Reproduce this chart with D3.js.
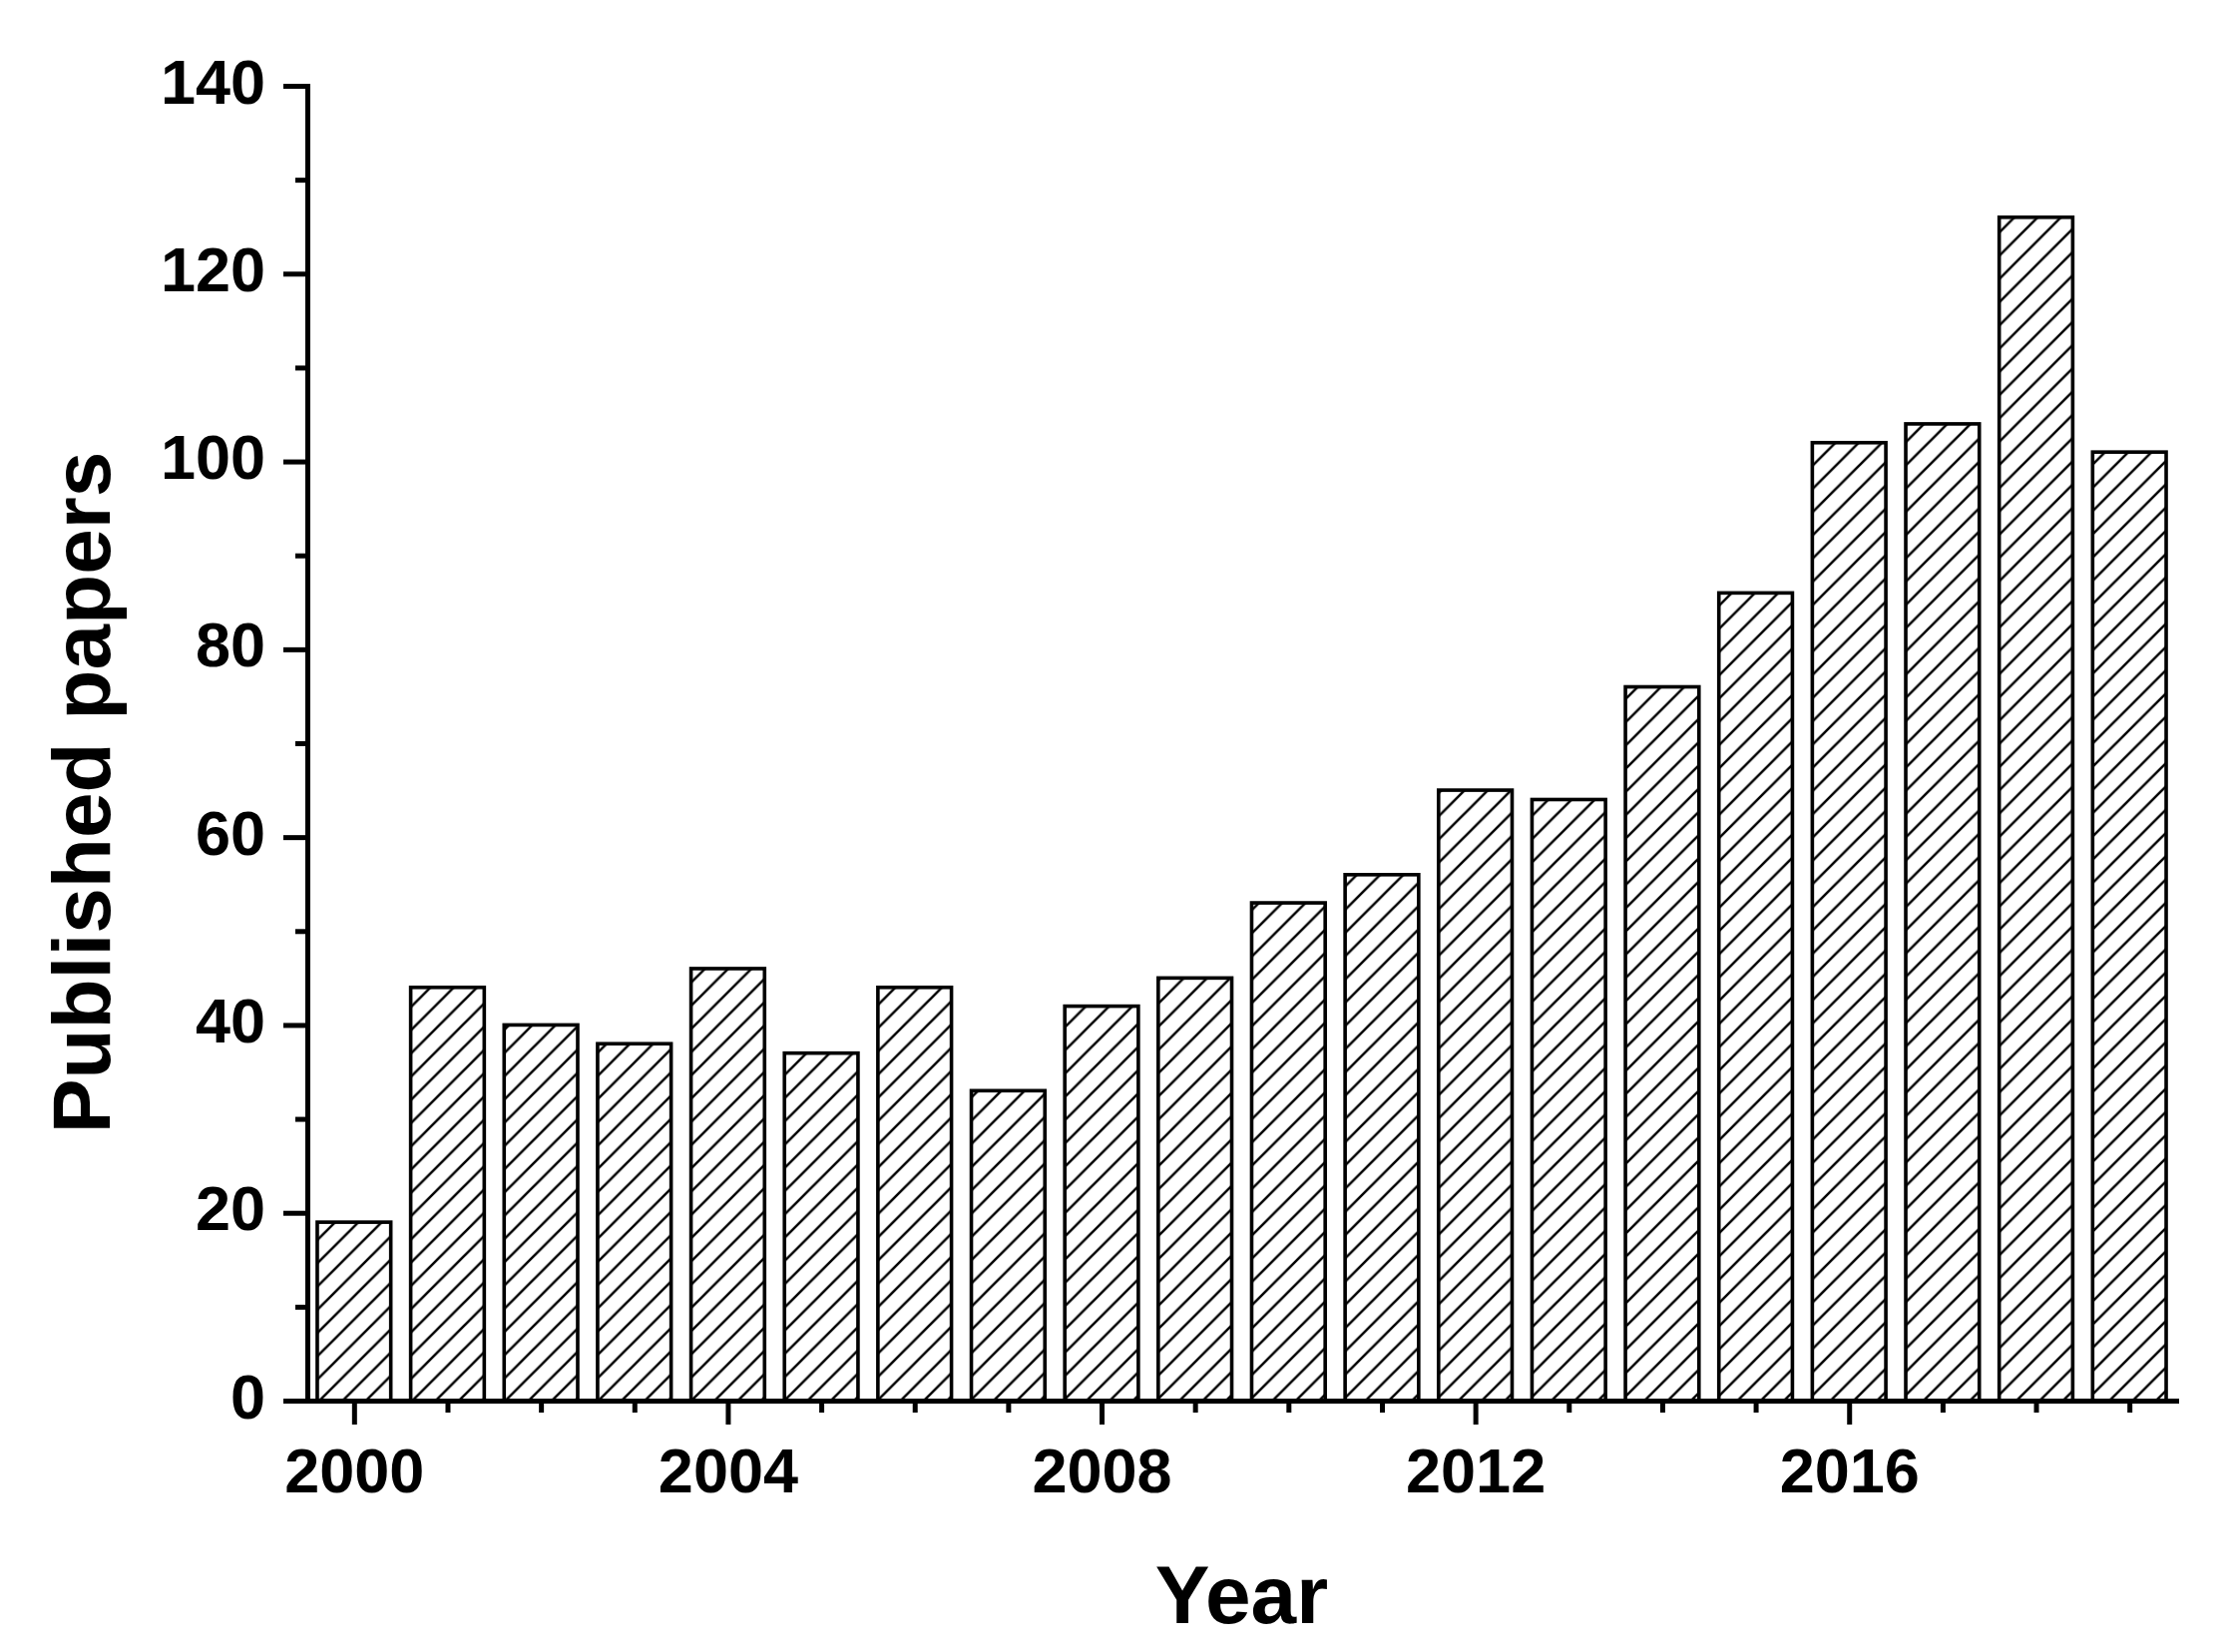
<!DOCTYPE html>
<html>
<head>
<meta charset="utf-8">
<script src="https://cdn.jsdelivr.net/npm/d3@7"></script>
<style>
  html, body { margin: 0; padding: 0; background: #fff; }
  svg { display: block; }
  text { font-family: "Liberation Sans", Arial, sans-serif; font-weight: bold; fill: #000; }
</style>
</head>
<body>
<svg id="chart" width="2235" height="1656"></svg>
<script>
// ---- data ----
const years = [2000, 2001, 2002, 2003, 2004, 2005, 2006, 2007, 2008, 2009,
               2010, 2011, 2012, 2013, 2014, 2015, 2016, 2017, 2018, 2019];
const papers = [19, 44, 40, 38, 46, 37, 44, 33, 42, 45,
                53, 56, 65, 64, 76, 86, 102, 104, 126, 101];
const yMajorTicks = [0, 20, 40, 60, 80, 100, 120, 140];
const yMinorTicks = [10, 30, 50, 70, 90, 110, 130];
const xMajorTicks = [2000, 2004, 2008, 2012, 2016];
const xMinorTicks = [2001, 2002, 2003, 2005, 2006, 2007, 2009, 2010, 2011,
                     2013, 2014, 2015, 2017, 2018, 2019];
const xTitle = "Year";
const yTitle = "Published papers";

// ---- layout ----
const plotL = 308, plotR = 2181, plotT = 86, plotB = 1404;
const svg = d3.select("#chart");

const x = d3.scaleLinear().domain([1999.5, 2019.5]).range([plotL, plotR]);
const y = d3.scaleLinear().domain([0, 140]).range([plotB, plotT]);
const step = x(2001) - x(2000);
const barW = step * 0.787;

// hatch pattern
const hs = 23.3;
const defs = svg.append("defs");
defs.append("pattern")
  .attr("id", "hatch")
  .attr("patternUnits", "userSpaceOnUse")
  .attr("width", hs).attr("height", hs)
  .append("path")
  .attr("d", `M-2,2 L2,-2 M0,${hs} L${hs},0 M${hs-2},${hs+2} L${hs+2},${hs-2}`)
  .attr("stroke", "#000")
  .attr("stroke-width", 2.5)
  .attr("fill", "none");

// bars
svg.append("g").selectAll("rect")
  .data(years.map((yr, i) => ({ yr, v: papers[i] })))
  .join("rect")
  .attr("x", d => x(d.yr) - barW / 2)
  .attr("y", d => y(d.v))
  .attr("width", barW)
  .attr("height", d => y(0) - y(d.v))
  .attr("fill", "url(#hatch)")
  .attr("stroke", "#000")
  .attr("stroke-width", 3.6);

// axes
const axisStroke = 5;
function styleAxis(g) {
  g.select(".domain").attr("stroke", "#000").attr("stroke-width", axisStroke).attr("stroke-linecap", "square");
  g.selectAll(".tick line").attr("stroke", "#000").attr("stroke-width", axisStroke);
  g.selectAll(".tick text").style("font-size", "63px").style("font-family", "'Liberation Sans', Arial, sans-serif").style("font-weight", "bold").attr("fill", "#000");
}

// y minor
svg.append("g").attr("transform", `translate(${plotL},0)`)
  .call(d3.axisLeft(y).tickValues(yMinorTicks).tickSize(12).tickSizeOuter(0).tickFormat(""))
  .call(g => { g.select(".domain").remove(); g.selectAll(".tick line").attr("stroke", "#000").attr("stroke-width", axisStroke); });
// x minor
svg.append("g").attr("transform", `translate(0,${plotB})`)
  .call(d3.axisBottom(x).tickValues(xMinorTicks).tickSize(12).tickSizeOuter(0).tickFormat(""))
  .call(g => { g.select(".domain").remove(); g.selectAll(".tick line").attr("stroke", "#000").attr("stroke-width", axisStroke); });

// y major
svg.append("g").attr("transform", `translate(${plotL},0)`)
  .call(d3.axisLeft(y).tickValues(yMajorTicks).tickSize(24).tickSizeOuter(0).tickPadding(18).tickFormat(d3.format("d")))
  .call(styleAxis)
  .call(g => g.selectAll(".tick text").attr("dy", "0.27em"));
// x major
svg.append("g").attr("transform", `translate(0,${plotB})`)
  .call(d3.axisBottom(x).tickValues(xMajorTicks).tickSize(24).tickSizeOuter(0).tickPadding(23).tickFormat(d3.format("d")))
  .call(styleAxis);

// titles
svg.append("text")
  .attr("x", (plotL + plotR) / 2).attr("y", 1627)
  .attr("text-anchor", "middle")
  .style("font-size", "82px")
  .text(xTitle);

svg.append("text")
  .attr("transform", `translate(110,794.5) rotate(-90)`)
  .attr("text-anchor", "middle")
  .style("font-size", "82px")
  .text(yTitle);
</script>
</body>
</html>
